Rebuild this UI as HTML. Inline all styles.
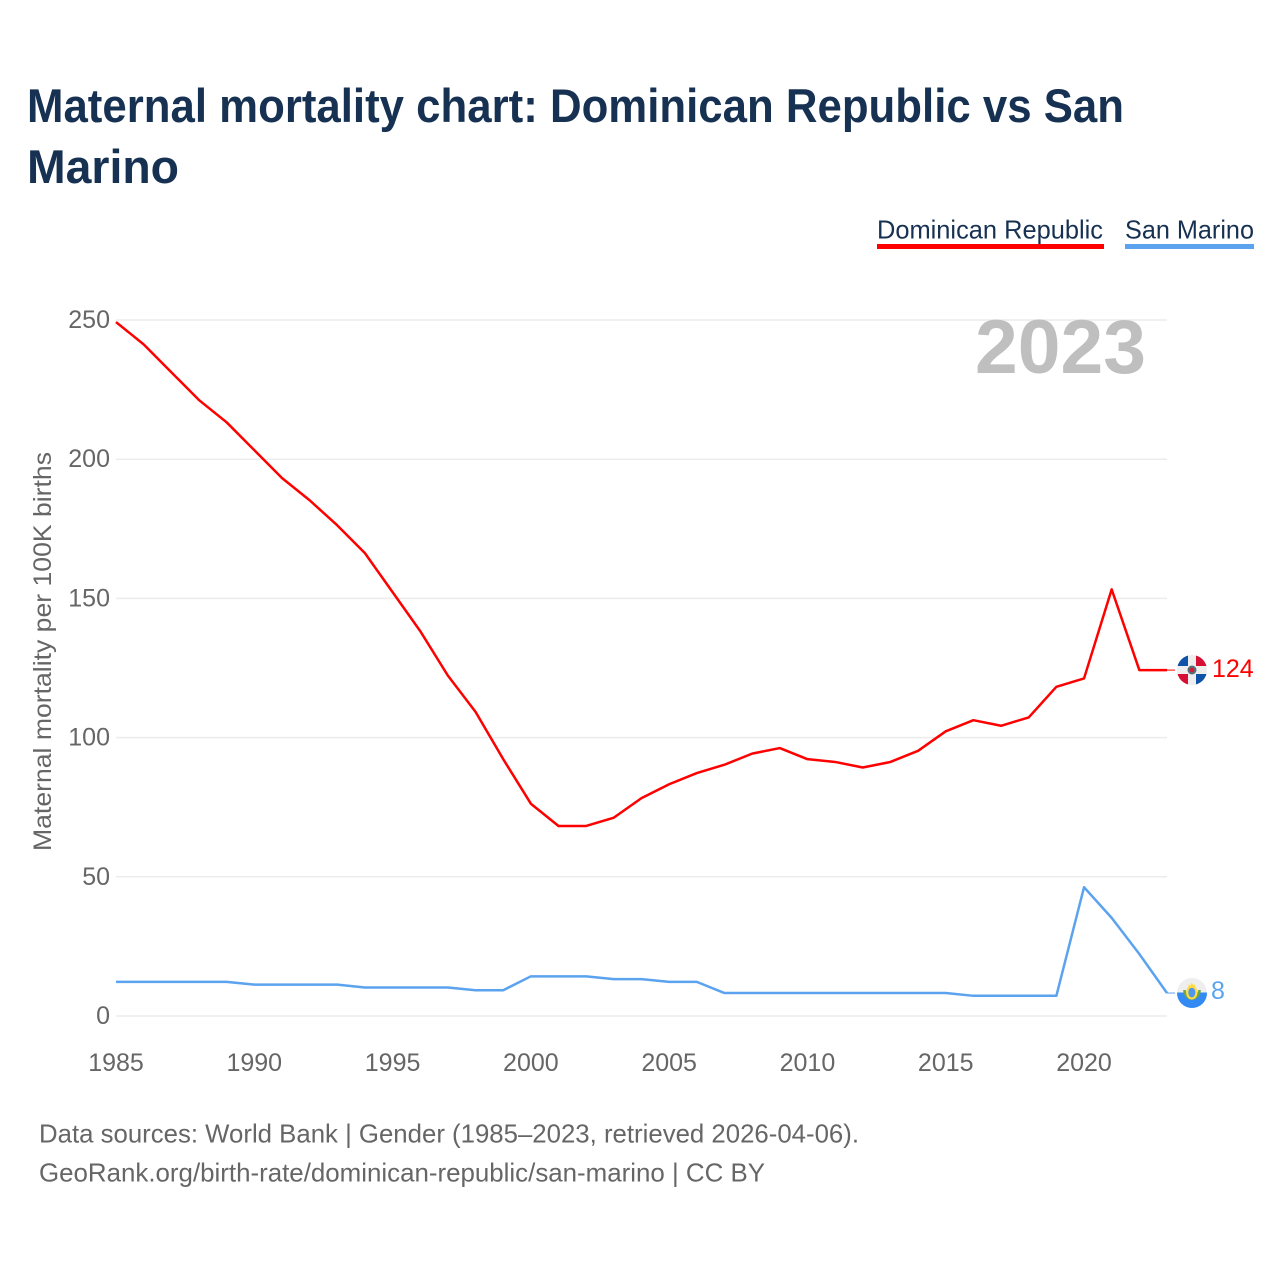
<!DOCTYPE html>
<html lang="en">
<head>
<meta charset="utf-8">
<title>Maternal mortality chart: Dominican Republic vs San Marino</title>
<style>
html,body{margin:0;padding:0;background:#fff;width:1280px;height:1280px;overflow:hidden}
svg{display:block}
text{font-family:"Liberation Sans",sans-serif}
</style>
</head>
<body>
<svg id="chart" width="1280" height="1280" viewBox="0 0 1280 1280" xmlns="http://www.w3.org/2000/svg">
  <rect width="1280" height="1280" fill="#fff"/>
  <g fill="#173152" font-weight="700" font-size="47">
    <text x="27" y="122" textLength="1097" lengthAdjust="spacingAndGlyphs">Maternal mortality chart: Dominican Republic vs San</text>
    <text x="27" y="183" textLength="152" lengthAdjust="spacingAndGlyphs">Marino</text>
  </g>
  <g font-size="26" fill="#173152">
    <g>
      <text x="877" y="238.500" textLength="226" lengthAdjust="spacingAndGlyphs">Dominican Republic</text>
      <rect x="877" y="244" width="227" height="5" fill="#ff0000"/>
    </g>
    <g>
      <text x="1125" y="238.500" textLength="129" lengthAdjust="spacingAndGlyphs">San Marino</text>
      <rect x="1125" y="244" width="129" height="5" fill="#5ba3ee"/>
    </g>
  </g>
  <g id="grid"></g>
  <g id="yticks" font-size="25" fill="#666" text-anchor="end"></g>
  <g id="xticks" font-size="25" fill="#666" text-anchor="middle"></g>
  <text transform="translate(51,851) rotate(-90)" font-size="25" fill="#666" textLength="399" lengthAdjust="spacingAndGlyphs">Maternal mortality per 100K births</text>
  <text x="975" y="373" font-size="76" font-weight="700" fill="#bfbfbf" textLength="171" lengthAdjust="spacingAndGlyphs">2023</text>
  <g id="series"></g>
  <g id="flag-do">
    <clipPath id="clip-do"><circle cx="1192" cy="670" r="15"/></clipPath>
    <g clip-path="url(#clip-do)">
      <rect x="1177" y="655" width="30" height="30" fill="#eeeeee"/>
      <rect x="1177" y="655" width="11" height="11" fill="#0f52a8"/>
      <rect x="1196" y="655" width="11" height="11" fill="#d80f34"/>
      <rect x="1177" y="674" width="11" height="11" fill="#d80f34"/>
      <rect x="1196" y="674" width="11" height="11" fill="#0f52a8"/>
      <circle cx="1192" cy="670" r="4.500" fill="#56707a"/>
      <circle cx="1192" cy="670" r="2.400" fill="#d01c3a"/>
    </g>
  </g>
  <g id="flag-sm">
    <clipPath id="clip-sm"><circle cx="1192" cy="993" r="15"/></clipPath>
    <g clip-path="url(#clip-sm)">
      <rect x="1177" y="978" width="30" height="15" fill="#eeeeee"/>
      <rect x="1177" y="992.500" width="30" height="15.500" fill="#338af3"/>
      <path d="M1184.500 990a7.500 8.500 0 0 0 15 0" fill="none" stroke="#6da544" stroke-width="2.600"/>
      <ellipse cx="1191.800" cy="992.500" rx="4.600" ry="6" fill="#4f97ea" stroke="#ffda44" stroke-width="2.200"/>
      <path d="M1188.500 988v-3.500l1.700 1 1.600-3 1.600 3 1.700-1v3.500z" fill="#ffda44"/>
    </g>
  </g>
  <text id="end-label-do" x="1212" y="677" font-size="25" fill="#ff0000"></text>
  <text id="end-label-sm" x="1211" y="999" font-size="25" fill="#5ba3ee"></text>
  <g font-size="26" fill="#666">
    <text x="39" y="1142.500" textLength="820" lengthAdjust="spacingAndGlyphs">Data sources: World Bank | Gender (1985–2023, retrieved 2026-04-06).</text>
    <text x="39" y="1181.500" textLength="726" lengthAdjust="spacingAndGlyphs">GeoRank.org/birth-rate/dominican-republic/san-marino | CC BY</text>
  </g>
</svg>
<script>
const years = [1985,1986,1987,1988,1989,1990,1991,1992,1993,1994,1995,1996,1997,1998,1999,2000,2001,2002,2003,2004,2005,2006,2007,2008,2009,2010,2011,2012,2013,2014,2015,2016,2017,2018,2019,2020,2021,2022,2023];
const dominicanRepublic = [249,241,231,221,213,203,193,185,176,166,152,138,122,109,92,76,68,68,71,78,83,87,90,94,96,92,91,89,91,95,102,106,104,107,118,121,153,124,124];
const sanMarino = [12,12,12,12,12,11,11,11,11,10,10,10,10,9,9,14,14,14,13,13,12,12,8,8,8,8,8,8,8,8,8,7,7,7,7,46,35,22,8];
const yTickValues = [0,50,100,150,200,250];
const xTickValues = [1985,1990,1995,2000,2005,2010,2015,2020];

const NS = 'http://www.w3.org/2000/svg';
const SERIES_NUDGE = 0.7;
const xScale = function (year) { return 116 + (year - 1985) * (1167 - 116) / 38; };
const yScale = function (value) { return 1016 - value * (1016 - 320) / 250; };
const make = function (tag, parent) {
  const el = document.createElementNS(NS, tag);
  parent.appendChild(el);
  return el;
};

const gridGroup = document.getElementById('grid');
const yGroup = document.getElementById('yticks');
yTickValues.forEach(function (v) {
  const line = make('line', gridGroup);
  
  
  line.setAttribute('x1', 116);
  line.setAttribute('x2', 1167);
  line.setAttribute('y1', yScale(v));
  line.setAttribute('y2', yScale(v));
  line.setAttribute('stroke', '#ececec');
  line.setAttribute('stroke-width', 1.5);
  const label = make('text', yGroup);
  
  
  label.setAttribute('x', 110);
  label.setAttribute('y', yScale(v) + 8);
  label.textContent = v;
});

const xGroup = document.getElementById('xticks');
xTickValues.forEach(function (y) {
  const label = make('text', xGroup);
  
  
  label.setAttribute('x', xScale(y));
  label.setAttribute('y', 1071);
  label.textContent = y;
});

const seriesGroup = document.getElementById('series');
const drawSeries = function (values, color) {
  const pts = values.map(function (v, i) { return xScale(years[i]).toFixed(2) + ',' + (yScale(v) - SERIES_NUDGE).toFixed(2); });
  const last = values[values.length - 1];
  const stub = make('line', seriesGroup);
  
  
  stub.setAttribute('x1', xScale(years[years.length - 1]));
  stub.setAttribute('x2', xScale(years[years.length - 1]) + 8);
  stub.setAttribute('y1', yScale(last) - SERIES_NUDGE);
  stub.setAttribute('y2', yScale(last) - SERIES_NUDGE);
  stub.setAttribute('stroke', color);
  stub.setAttribute('stroke-width', 1);
  const line = make('polyline', seriesGroup);
  
  
  line.setAttribute('points', pts.join(' '));
  line.setAttribute('fill', 'none');
  line.setAttribute('stroke', color);
  line.setAttribute('stroke-width', 2.5);
  line.setAttribute('stroke-linejoin', 'round');
};
drawSeries(dominicanRepublic, '#ff0000');
drawSeries(sanMarino, '#5ba3ee');

document.getElementById('end-label-do').textContent = dominicanRepublic[dominicanRepublic.length - 1];
document.getElementById('end-label-sm').textContent = sanMarino[sanMarino.length - 1];
</script>
</body>
</html>
